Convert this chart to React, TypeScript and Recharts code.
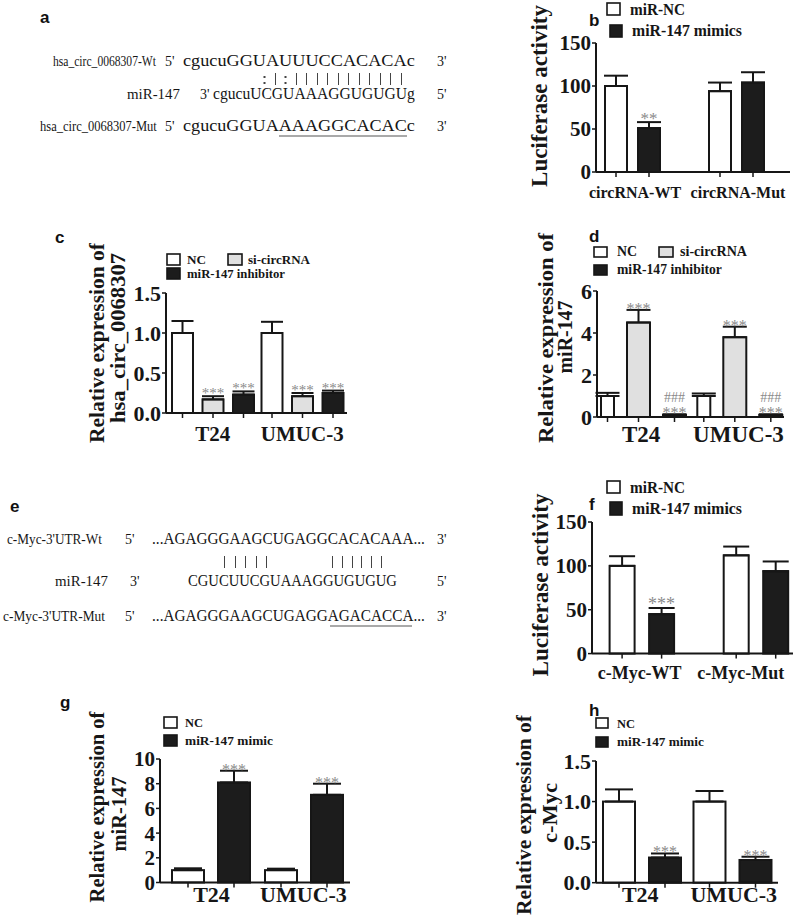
import React from "react";
import { BarChart, Bar, XAxis, YAxis, ErrorBar, LabelList } from "recharts";

const SERIF = '"Liberation Serif", Tinos, "Times New Roman", "DejaVu Serif", serif';
const SANS = '"Liberation Sans", Arial, sans-serif';
const INK = "#161616";
const WHITE = "#ffffff";
const GREY = "#e0e0e0";
const BLACK = "#1c1c1c";
const STAR = "#8a8a8a";

// ---- a: circRNA / miR-147 pairing
const A_NAMES = ["hsa_circ_0068307-Wt", "miR-147", "hsa_circ_0068307-Mut"];
const A_SEQS = ["cgucuGGUAUUUCCACACAc", "cgucuUCGUAAAGGUGUGUg", "cgucuGGUAAAAGGCACACc"];
const A_PAIRS = ": | : | | | | | | | | | | |";

// ---- b: luciferase, circRNA reporter
const B_CATS = ["circRNA-WT", "circRNA-Mut"];
const B_SERIES = ["miR-NC", "miR-147 mimics"];
const B_NC = [100, 94];
const B_NC_SD = [12, 10];
const B_MIMIC = [51, 104];
const B_MIMIC_SD = [7, 12];
const B_MIMIC_SIG = ["**", ""];

// ---- c: hsa_circ_0068307 expression
const C_CATS = ["T24", "UMUC-3"];
const C_SERIES = ["NC", "si-circRNA", "miR-147 inhibitor"];
const C_NC = [1.0, 1.0];
const C_NC_SD = [0.15, 0.14];
const C_SI = [0.17, 0.21];
const C_SI_SD = [0.04, 0.04];
const C_INH = [0.23, 0.25];
const C_INH_SD = [0.04, 0.03];
const C_SIG = ["***", "***"];

// ---- d: miR-147 expression
const D_CATS = ["T24", "UMUC-3"];
const D_SERIES = ["NC", "si-circRNA", "miR-147 inhibitor"];
const D_NC = [1.0, 1.0];
const D_NC_SD = [0.15, 0.12];
const D_SI = [4.5, 3.8];
const D_SI_SD = [0.6, 0.5];
const D_INH = [0.1, 0.1];
const D_INH_SD = [0.03, 0.03];
const D_SIG = ["***", "***"];
const D_HASH = ["###", "###"];

// ---- e: c-Myc 3'UTR pairing
const E_NAMES = ["c-Myc-3'UTR-Wt", "miR-147", "c-Myc-3'UTR-Mut"];
const E_SEQS = ["...AGAGGGAAGCUGAGGCACACAAA...", "CGUCUUCGUAAAGGUGUGUG", "...AGAGGGAAGCUGAGGAGACACCA..."];
const E_PAIRS = ["| | | | |", "| | | | | |"];

// ---- f: luciferase, c-Myc reporter
const F_CATS = ["c-Myc-WT", "c-Myc-Mut"];
const F_SERIES = ["miR-NC", "miR-147 mimics"];
const F_NC = [100, 112];
const F_NC_SD = [11, 10];
const F_MIMIC = [45, 94];
const F_MIMIC_SD = [7, 11];
const F_MIMIC_SIG = ["***", ""];

// ---- g: miR-147 after mimic
const G_CATS = ["T24", "UMUC-3"];
const G_SERIES = ["NC", "miR-147 mimic"];
const G_NC = [1.0, 1.0];
const G_NC_SD = [0.15, 0.12];
const G_MIMIC = [8.1, 7.1];
const G_MIMIC_SD = [0.95, 0.9];
const G_SIG = ["***", "***"];

// ---- h: c-Myc after mimic
const H_CATS = ["T24", "UMUC-3"];
const H_SERIES = ["NC", "miR-147 mimic"];
const H_NC = [1.0, 1.0];
const H_NC_SD = [0.15, 0.13];
const H_MIMIC = [0.31, 0.28];
const H_MIMIC_SD = [0.05, 0.04];
const H_SIG = ["***", "***"];

type Series = {
  key: string;
  values: number[];
  sd: number[];
  fill: string;
  barSize: number;
  sig?: string[];
  hash?: string[];
};

// measure text so squeezed labels can be scaled to the width seen in the figure
let measureCtx: CanvasRenderingContext2D | null = null;
function textWidth(s: string, size: number, weight: number) {
  if (!measureCtx && typeof document !== "undefined") {
    measureCtx = document.createElement("canvas").getContext("2d");
  }
  if (!measureCtx) return s.length * size * 0.5;
  measureCtx.font = `${weight} ${size}px ${SERIF}`;
  return measureCtx.measureText(s).width || s.length * size * 0.5;
}

const BarShape = (p: any) => {
  const { x, y, width, height, fill } = p;
  if (x == null || y == null) return null;
  const cx = x + width / 2;
  const base = y + height;
  return (
    <g>
      <rect x={x} y={y} width={width} height={Math.max(height, 0)} fill={fill} stroke={INK} strokeWidth={2} />
      <line x1={cx} x2={cx} y1={base} y2={base + 5} stroke={INK} strokeWidth={1.5} />
    </g>
  );
};

const starLabel = (s: Series, size: number, lift: number) => (p: any) => {
  const vb = p.viewBox ?? {};
  const x = Number(vb.x ?? p.x);
  const y = Number(vb.y ?? p.y);
  const w = Number(vb.width ?? p.width);
  const h = Number(vb.height ?? p.height);
  const i = p.index;
  const mark = s.sig?.[i];
  if (!mark) return null;
  const v = s.values[i];
  const errTop = y - (v ? (s.sd[i] * h) / v : 0);
  const cx = x + w / 2;
  return (
    <g>
      <text x={cx} y={errTop + lift} textAnchor="middle" fontFamily={SERIF} fontSize={size} fill={STAR}>
        {mark}
      </text>
      {s.hash?.[i] ? (
        <text x={cx} y={errTop + lift - 16} textAnchor="middle" fontFamily={SERIF} fontSize={14} fill={STAR}>
          {s.hash[i]}
        </text>
      ) : null}
    </g>
  );
};

type PanelProps = {
  categories: string[];
  series: Series[];
  plot: { left: number; top: number; right: number; bottom: number };
  domain: [number, number];
  ticks: number[];
  digits: number;
  padding: { left: number; right: number };
  barGap: number;
  yFont: number;
  xFont: number;
  xBase: number;
  xShift: number[];
  starFont: number;
  lift: number;
  cap: number;
};

function BarPanel(props: PanelProps) {
  const { categories, series, plot, domain, ticks, digits, padding, barGap, yFont, xFont, xBase, xShift, starFont, lift, cap } = props;
  const data = categories.map((category, i) => {
    const row: Record<string, unknown> = { category };
    series.forEach((s) => {
      row[s.key] = s.values[i];
      row[s.key + "Err"] = [0, s.sd[i]];
    });
    return row;
  });
  const ML = 80;
  const MT = 20;
  const XH = 40;
  const MR = 4;
  const width = plot.right - plot.left + ML + MR;
  const height = plot.bottom - plot.top + MT + XH;
  return (
    <div style={{ position: "absolute", left: plot.left - ML, top: plot.top - MT }}>
      <BarChart width={width} height={height} data={data} margin={{ top: MT, right: MR, bottom: 0, left: ML - 60 }} barGap={barGap}>
        <XAxis
          dataKey="category"
          height={XH}
          padding={padding}
          axisLine={{ stroke: INK, strokeWidth: 2 }}
          tickLine={false}
          tickSize={0}
          tickMargin={0}
          interval={0}
          tick={(t: any) => (
            <text
              x={t.x + (xShift[t.index] ?? 0)}
              y={plot.bottom - plot.top + MT + xBase}
              textAnchor="middle"
              fontFamily={SERIF}
              fontWeight={700}
              fontSize={xFont}
              fill={INK}
            >
              {t.payload.value}
            </text>
          )}
        />
        <YAxis
          width={60}
          type="number"
          domain={domain}
          ticks={ticks}
          interval={0}
          tickFormatter={(v: number) => v.toFixed(digits)}
          axisLine={{ stroke: INK, strokeWidth: 2 }}
          tickLine={{ stroke: INK, strokeWidth: 1.5 }}
          tickSize={4}
          tickMargin={1}
          tick={{ fontFamily: SERIF, fontWeight: 700, fontSize: yFont, fill: INK }}
        />
        {series.map((s) => (
          <Bar key={s.key} dataKey={s.key} fill={s.fill} barSize={s.barSize} isAnimationActive={false} shape={BarShape}>
            <ErrorBar dataKey={s.key + "Err"} width={cap} stroke={INK} strokeWidth={2} direction="y" />
            {s.sig ? <LabelList dataKey={s.key} content={starLabel(s, starFont, lift)} /> : null}
          </Bar>
        ))}
      </BarChart>
    </div>
  );
}

// horizontal text, optionally scaled along x to a measured length
const Fit = ({ x, y, len, size = 16, weight = 400, children }: any) => {
  const sx = len ? len / textWidth(String(children), size, weight) : 1;
  return (
    <text
      transform={`translate(${x},${y}) scale(${sx},1)`}
      fontFamily={SERIF}
      fontWeight={weight}
      fontSize={size}
      fill={INK}
    >
      {children}
    </text>
  );
};

// base-pairing marks, spread evenly between x0 and x1
const Pairs = ({ marks, x0, x1, y }: any) => {
  const items = marks.split(" ");
  const step = items.length > 1 ? (x1 - x0) / (items.length - 1) : 0;
  return (
    <g>
      {items.map((m: string, i: number) => {
        const x = Math.round(x0 + i * step) + 0.5;
        return m === ":" ? (
          <g key={i}>
            <rect x={x - 1} y={y - 8} width={2} height={2} fill="#444" />
            <rect x={x - 1} y={y - 2} width={2} height={2} fill="#444" />
          </g>
        ) : (
          <line key={i} x1={x} x2={x} y1={y - 11} y2={y + 1} stroke="#444" strokeWidth={1} />
        );
      })}
    </g>
  );
};

const VText = ({ x, y, len, size = 22, children }: any) => {
  const sx = len / textWidth(String(children), size, 700);
  return (
    <text
      transform={`translate(${x},${y}) rotate(-90) scale(${sx},1)`}
      textAnchor="middle"
      fontFamily={SERIF}
      fontWeight={700}
      fontSize={size}
      fill={INK}
    >
      {children}
    </text>
  );
};

const Key = ({ x, y, w, h, fill, tx, ty, size, len, label }: any) => (
  <g>
    <rect x={x} y={y} width={w} height={h} fill={fill} stroke={INK} strokeWidth={1.6} />
    <Fit x={tx} y={ty} len={len} size={size} weight={700}>
      {label}
    </Fit>
  </g>
);

const Letter = ({ x, y, children }: any) => (
  <text x={x} y={y} fontFamily={SANS} fontWeight={700} fontSize={17} fill="#111">
    {children}
  </text>
);

export default function App() {
  return (
    <div style={{ position: "absolute", left: 0, top: 0, width: 797, height: 918, overflow: "hidden", background: "#fff" }}>
      <BarPanel
        categories={B_CATS}
        series={[
          { key: "nc", values: B_NC, sd: B_NC_SD, fill: WHITE, barSize: 22 },
          { key: "mimic", values: B_MIMIC, sd: B_MIMIC_SD, fill: BLACK, barSize: 22, sig: B_MIMIC_SIG },
        ]}
        plot={{ left: 596, top: 43, right: 790, bottom: 172 }}
        domain={[0, 150]}
        ticks={[0, 50, 100, 150]}
        digits={0}
        padding={{ left: -16, right: 2 }}
        barGap={11}
        yFont={21}
        xFont={16}
        xBase={26}
        xShift={[3, 2]}
        starFont={17}
        lift={2}
        cap={12}
      />
      <BarPanel
        categories={C_CATS}
        series={[
          { key: "nc", values: C_NC, sd: C_NC_SD, fill: WHITE, barSize: 21 },
          { key: "si", values: C_SI, sd: C_SI_SD, fill: GREY, barSize: 21, sig: C_SIG },
          { key: "inh", values: C_INH, sd: C_INH_SD, fill: BLACK, barSize: 21, sig: C_SIG },
        ]}
        plot={{ left: 166, top: 292.5, right: 347, bottom: 412.5 }}
        domain={[0, 1.5]}
        ticks={[0, 0.5, 1, 1.5]}
        digits={1}
        padding={{ left: 2, right: 0 }}
        barGap={9.5}
        yFont={22}
        xFont={21}
        xBase={27.5}
        xShift={[0, 0]}
        starFont={15}
        lift={2}
        cap={11}
      />
      <BarPanel
        categories={D_CATS}
        series={[
          { key: "nc", values: D_NC, sd: D_NC_SD, fill: WHITE, barSize: 13 },
          { key: "si", values: D_SI, sd: D_SI_SD, fill: GREY, barSize: 23, sig: D_SIG },
          { key: "inh", values: D_INH, sd: D_INH_SD, fill: BLACK, barSize: 23, sig: D_SIG, hash: D_HASH },
        ]}
        plot={{ left: 597, top: 290.7, right: 784, bottom: 416.7 }}
        domain={[0, 6]}
        ticks={[0, 2, 4, 6]}
        digits={0}
        padding={{ left: -2, right: -3.6 }}
        barGap={13}
        yFont={22}
        xFont={23}
        xBase={25}
        xShift={[-2, -1]}
        starFont={16}
        lift={4}
        cap={12}
      />
      <BarPanel
        categories={F_CATS}
        series={[
          { key: "nc", values: F_NC, sd: F_NC_SD, fill: WHITE, barSize: 25 },
          { key: "mimic", values: F_MIMIC, sd: F_MIMIC_SD, fill: BLACK, barSize: 25, sig: F_MIMIC_SIG },
        ]}
        plot={{ left: 592, top: 521.7, right: 793, bottom: 653.3 }}
        domain={[0, 150]}
        ticks={[0, 50, 100, 150]}
        digits={0}
        padding={{ left: -7.4, right: -19.8 }}
        barGap={14.5}
        yFont={21}
        xFont={18}
        xBase={25}
        xShift={[-2, -15]}
        starFont={18}
        lift={2}
        cap={13}
      />
      <BarPanel
        categories={G_CATS}
        series={[
          { key: "nc", values: G_NC, sd: G_NC_SD, fill: WHITE, barSize: 32 },
          { key: "mimic", values: G_MIMIC, sd: G_MIMIC_SD, fill: BLACK, barSize: 32, sig: G_SIG },
        ]}
        plot={{ left: 160, top: 759, right: 350, bottom: 882.5 }}
        domain={[0, 10]}
        ticks={[0, 2, 4, 6, 8, 10]}
        digits={0}
        padding={{ left: 4, right: 0 }}
        barGap={14}
        yFont={21}
        xFont={22}
        xBase={19}
        xShift={[1, 0]}
        starFont={16}
        lift={4}
        cap={14}
      />
      <BarPanel
        categories={H_CATS}
        series={[
          { key: "nc", values: H_NC, sd: H_NC_SD, fill: WHITE, barSize: 32 },
          { key: "mimic", values: H_MIMIC, sd: H_MIMIC_SD, fill: BLACK, barSize: 32, sig: H_SIG },
        ]}
        plot={{ left: 596, top: 761, right: 778, bottom: 882.7 }}
        domain={[0, 1.5]}
        ticks={[0, 0.5, 1, 1.5]}
        digits={1}
        padding={{ left: 1, right: 0 }}
        barGap={14}
        yFont={22}
        xFont={22}
        xBase={19}
        xShift={[-2, 1]}
        starFont={16}
        lift={4}
        cap={14}
      />

      <svg width={797} height={918} style={{ position: "absolute", left: 0, top: 0, pointerEvents: "none" }}>
        {/* panel letters */}
        <Letter x={40} y={23}>a</Letter>
        <Letter x={589} y={26}>b</Letter>
        <Letter x={55} y={243}>c</Letter>
        <Letter x={589} y={242}>d</Letter>
        <Letter x={10} y={512}>e</Letter>
        <Letter x={589} y={510}>f</Letter>
        <Letter x={60} y={708}>g</Letter>
        <Letter x={589} y={716}>h</Letter>

        {/* a */}
        <Fit x={53} y={66} len={103} size={14}>{A_NAMES[0]}</Fit>
        <Fit x={165} y={66} size={14}>5'</Fit>
        <Fit x={183} y={66} len={232} size={17}>{A_SEQS[0]}</Fit>
        <Fit x={437} y={66} size={14}>3'</Fit>
        <Pairs marks={A_PAIRS} x0={264} x1={401} y={84} />
        <Fit x={127} y={99} len={53} size={14}>{A_NAMES[1]}</Fit>
        <Fit x={200} y={99} size={14}>3'</Fit>
        <Fit x={213} y={99} len={202} size={17}>{A_SEQS[1]}</Fit>
        <Fit x={437} y={99} size={14}>5'</Fit>
        <Fit x={40} y={131} len={117} size={14}>{A_NAMES[2]}</Fit>
        <Fit x={165} y={131} size={14}>5'</Fit>
        <Fit x={183} y={131} len={232} size={17}>{A_SEQS[2]}</Fit>
        <Fit x={437} y={131} size={14}>3'</Fit>
        <line x1={279} x2={407} y1={136} y2={136} stroke="#555" strokeWidth={1.2} />

        {/* e */}
        <Fit x={7} y={544} len={95} size={14}>{E_NAMES[0]}</Fit>
        <Fit x={125} y={544} size={14}>5'</Fit>
        <Fit x={152} y={544} len={273} size={16}>{E_SEQS[0]}</Fit>
        <Fit x={437} y={544} size={14}>3'</Fit>
        <Pairs marks={E_PAIRS[0]} x0={224} x1={266} y={567} />
        <Pairs marks={E_PAIRS[1]} x0={332} x1={381} y={567} />
        <Fit x={55} y={586} len={53} size={14}>{E_NAMES[1]}</Fit>
        <Fit x={130} y={586} size={14}>3'</Fit>
        <Fit x={188} y={586} len={209} size={16}>{E_SEQS[1]}</Fit>
        <Fit x={437} y={586} size={14}>5'</Fit>
        <Fit x={3} y={621} len={102} size={14}>{E_NAMES[2]}</Fit>
        <Fit x={125} y={621} size={14}>5'</Fit>
        <Fit x={152} y={621} len={273} size={16}>{E_SEQS[2]}</Fit>
        <Fit x={437} y={621} size={14}>3'</Fit>
        <line x1={330} x2={412} y1={626} y2={626} stroke="#555" strokeWidth={1.2} />

        {/* y titles */}
        <VText x={547} y={96} len={182} size={23}>Luciferase activity</VText>
        <VText x={104} y={343} len={200}>Relative expression of</VText>
        <VText x={125} y={338} len={170}>hsa_circ_0068307</VText>
        <VText x={553} y={338} len={210}>Relative expression of</VText>
        <VText x={572} y={337} len={73}>miR-147</VText>
        <VText x={548} y={585} len={183} size={23}>Luciferase activity</VText>
        <VText x={104} y={807} len={191}>Relative expression of</VText>
        <VText x={126} y={814} len={75}>miR-147</VText>
        <VText x={531} y={815} len={200}>Relative expression of</VText>
        <VText x={557} y={813} len={60}>c-Myc</VText>

        {/* legends */}
        <Key x={607} y={3} w={13} h={12} fill={WHITE} tx={630} ty={15} size={16} len={55} label={B_SERIES[0]} />
        <Key x={610} y={25} w={12} h={12} fill={BLACK} tx={632} ty={36} size={16} len={110} label={B_SERIES[1]} />

        <Key x={167} y={254} w={13} h={11} fill={WHITE} tx={187} ty={264} size={13} len={19} label={C_SERIES[0]} />
        <Key x={228} y={254} w={14} h={11} fill={GREY} tx={248} ty={264} size={13} len={62} label={C_SERIES[1]} />
        <Key x={167} y={268} w={13} h={11} fill={BLACK} tx={187} ty={278} size={13} len={98} label={C_SERIES[2]} />

        <Key x={594} y={247} w={13} h={10} fill={WHITE} tx={617} ty={256} size={14} len={20} label={D_SERIES[0]} />
        <Key x={659} y={247} w={14} h={10} fill={GREY} tx={680} ty={256} size={14} len={67} label={D_SERIES[1]} />
        <Key x={594} y={265} w={13} h={10} fill={BLACK} tx={617} ty={274} size={14} len={105} label={D_SERIES[2]} />

        <Key x={607} y={481} w={13} h={12} fill={WHITE} tx={630} ty={493} size={16} len={55} label={F_SERIES[0]} />
        <Key x={610} y={502} w={12} h={13} fill={BLACK} tx={632} ty={514} size={16} len={110} label={F_SERIES[1]} />

        <Key x={164} y={717} w={13} h={11} fill={WHITE} tx={185} ty={727} size={13} len={18} label={G_SERIES[0]} />
        <Key x={164} y={735} w={13} h={11} fill={BLACK} tx={185} ty={745} size={13} len={88} label={G_SERIES[1]} />

        <Key x={596} y={718} w={12} h={10} fill={WHITE} tx={617} ty={728} size={13} len={18} label={H_SERIES[0]} />
        <Key x={596} y={737} w={12} h={10} fill={BLACK} tx={617} ty={746} size={13} len={87} label={H_SERIES[1]} />
      </svg>
    </div>
  );
}
